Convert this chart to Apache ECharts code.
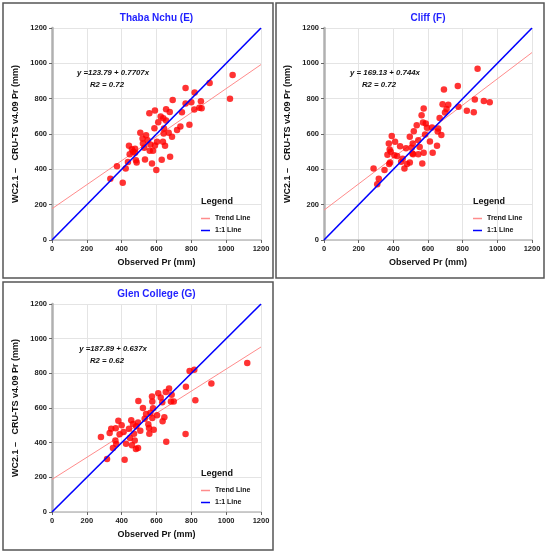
<!DOCTYPE html>
<html>
<head>
<meta charset="utf-8">
<script src="https://cdn.jsdelivr.net/npm/echarts@6/dist/echarts.min.js"></script>
<style>
  html, body { margin: 0; padding: 0; background: #fff; }
  #main { width: 550px; height: 554px; }
</style>
</head>
<body>
<div id="main"></div>
<script>
// panel titles and fit labels
var stations = ['Thaba Nchu (E)', 'Cliff (F)', 'Glen College (G)'];
var equations = ['y =123.79 + 0.7707x', 'y = 169.13 + 0.744x', 'y =187.89 + 0.637x'];
var r2Labels = ['R2 = 0.72', 'R2 = 0.72', 'R2 = 0.62'];
var axisTicks = [0, 200, 400, 600, 800, 1000, 1200];

// Thaba Nchu (E)
var thabaObs = [335, 373, 406, 423, 436, 442, 446, 459, 477, 482, 486, 477, 507, 522, 530, 534, 540, 549, 559, 561,
  574, 580, 588, 591, 599, 591, 603, 610, 624, 630, 639, 637, 643, 641, 649, 655, 655, 670, 676, 678,
  689, 693, 718, 737, 746, 767, 767, 789, 800, 817, 819, 846, 855, 859, 905, 1022, 1037, 466, 520, 565];
var thabaWc = [347, 418, 324, 405, 441, 533, 486, 514, 494, 452, 439, 516, 607, 546, 522, 456, 593, 565, 718, 505,
  433, 505, 633, 733, 396, 535, 556, 667, 699, 454, 689, 556, 631, 603, 533, 740, 676, 607, 725, 471,
  584, 793, 622, 642, 723, 861, 772, 652, 780, 738, 835, 748, 786, 746, 889, 799, 934, 500, 575, 540];
var thabaTrend = [177, 993];

// Cliff (F)
var cliffObs = [286, 307, 316, 349, 366, 374, 376, 381, 379, 385, 391, 406, 410, 422, 439, 445, 454, 464, 473, 479,
  495, 495, 506, 510, 512, 514, 518, 535, 544, 544, 552, 563, 567, 571, 575, 575, 583, 587, 594, 611,
  623, 627, 652, 656, 659, 667, 677, 684, 692, 698, 707, 717, 772, 776, 824, 864, 870, 886, 922, 956];
var cliffWc = [405, 315, 347, 396, 482, 546, 430, 439, 512, 499, 588, 480, 556, 475, 531, 443, 460, 405, 520, 430,
  439, 584, 522, 490, 546, 485, 616, 650, 565, 486, 527, 706, 433, 665, 744, 494, 597, 659, 635, 558,
  637, 494, 533, 614, 631, 691, 595, 769, 852, 722, 742, 765, 872, 754, 731, 723, 795, 970, 787, 780];
var cliffTrend = [169, 1061];

// Glen College (G)
var glenObs = [281, 316, 331, 340, 350, 364, 366, 369, 381, 388, 400, 411, 417, 425, 442, 448, 455, 459, 465, 471,
  475, 482, 494, 484, 494, 496, 507, 522, 532, 540, 553, 557, 559, 565, 574, 576, 576, 580, 584, 603,
  610, 624, 633, 635, 645, 653, 656, 672, 683, 687, 699, 767, 769, 790, 817, 823, 915, 1121];
var glenWc = [433, 306, 456, 481, 369, 413, 483, 392, 527, 448, 500, 462, 302, 394, 481, 427, 529, 385, 508, 452,
  413, 363, 369, 494, 517, 640, 469, 600, 538, 565, 506, 485, 452, 573, 667, 637, 542, 598, 475, 558,
  685, 660, 633, 523, 546, 692, 406, 713, 637, 677, 638, 450, 723, 813, 821, 644, 742, 860];
var glenTrend = [188, 952];

var oneToOne = [0, 1200];

var obsSets = [thabaObs, cliffObs, glenObs];
var wcSets = [thabaWc, cliffWc, glenWc];
var trendSets = [thabaTrend, cliffTrend, glenTrend];

// layout of the three boxes
var grids = [
  { left: 52, top: 28, width: 209, height: 212 },
  { left: 324, top: 28, width: 208, height: 212 },
  { left: 52, top: 304, width: 209, height: 208 }
];
var boxes = [[3, 3, 270, 275], [276, 3, 268, 275], [3, 282, 270, 268]];

var font = 'Arial, "Liberation Sans", sans-serif';

var myChart = echarts.init(document.getElementById('main'), null, { renderer: 'canvas' });

var xAxes = [], yAxes = [], series = [], legends = [], graphics = [];

for (var i = 0; i < 3; i++) {
  var g = grids[i];
  var common = {
    gridIndex: i,
    type: 'value',
    min: axisTicks[0],
    max: axisTicks[axisTicks.length - 1],
    interval: axisTicks[1] - axisTicks[0],
    nameLocation: 'middle',
    nameTextStyle: { fontFamily: font, fontWeight: 'bold', fontSize: 9, color: '#111' },
    axisTick: { show: true, length: 3, lineStyle: { color: '#666' } },
    axisLabel: {
      fontFamily: font, fontWeight: 'bold', fontSize: 7.5, color: '#222', margin: 5,
      formatter: function (v) { return String(v); }
    },
    splitLine: { lineStyle: { color: '#e4e4e4', width: 1 } }
  };
  xAxes.push(Object.assign({}, common, {
    name: 'Observed Pr (mm)',
    nameGap: 18,
    axisLine: { onZero: false, lineStyle: { color: '#bdbdbd', width: 1.5 } }
  }));
  yAxes.push(Object.assign({}, common, {
    name: 'WC2.1 \u2013   CRU-TS v4.09 Pr (mm)',
    nameGap: 32,
    axisLine: { show: true, onZero: false, lineStyle: { color: '#b0b0b0', width: 2.5 } }
  }));

  var pts = obsSets[i].map(function (x, k) { return [x, wcSets[i][k]]; });
  series.push({
    name: 'Observed',
    type: 'scatter',
    xAxisIndex: i, yAxisIndex: i,
    symbolSize: 6.5,
    itemStyle: { color: '#ff0000' },
    data: pts,
    z: 3
  });
  series.push({
    name: 'Trend Line',
    type: 'line',
    xAxisIndex: i, yAxisIndex: i,
    symbol: 'none',
    lineStyle: { color: '#ff8c8c', width: 1 },
    itemStyle: { color: '#ff8c8c' },
    data: [[oneToOne[0], trendSets[i][0]], [oneToOne[1], trendSets[i][1]]],
    z: 2
  });
  series.push({
    name: '1:1 Line',
    type: 'line',
    xAxisIndex: i, yAxisIndex: i,
    symbol: 'none',
    lineStyle: { color: '#0000ff', width: 1.6 },
    itemStyle: { color: '#0000ff' },
    data: [[oneToOne[0], oneToOne[0]], [oneToOne[1], oneToOne[1]]],
    z: 4
  });

  // legend block sits at bottom right of each plot
  legends.push({
    data: ['Trend Line', '1:1 Line'],
    orient: 'vertical',
    left: g.left + 144,
    top: g.top + g.height - 31,
    icon: 'rect',
    itemWidth: 9,
    itemHeight: 1.5,
    itemGap: 3,
    selectedMode: false,
    textStyle: { fontFamily: font, fontWeight: 'bold', fontSize: 7, color: '#111', lineHeight: 9 }
  });

  var cx = g.left + g.width / 2;
  graphics.push({
    type: 'rect',
    shape: { x: boxes[i][0], y: boxes[i][1], width: boxes[i][2], height: boxes[i][3] },
    style: { fill: 'none', stroke: '#555', lineWidth: 1.5 },
    silent: true
  });
  graphics.push({
    type: 'text', z: 100,
    x: cx, y: g.top - 10,
    style: { text: stations[i], fill: '#1f1fff', font: 'bold 10px ' + font, textAlign: 'center', textVerticalAlign: 'middle' }
  });
  graphics.push({
    type: 'text', z: 100,
    x: g.left + 61, y: g.top + 45,
    style: { text: equations[i], fill: '#111', font: 'italic bold 7.8px ' + font, textAlign: 'center', textVerticalAlign: 'middle' }
  });
  graphics.push({
    type: 'text', z: 100,
    x: g.left + 55, y: g.top + 57,
    style: { text: r2Labels[i], fill: '#111', font: 'italic bold 7.8px ' + font, textAlign: 'center', textVerticalAlign: 'middle' }
  });
  graphics.push({
    type: 'text', z: 100,
    x: g.left + 165, y: g.top + g.height - 38,
    style: { text: 'Legend', fill: '#111', font: 'bold 9px ' + font, textAlign: 'center', textVerticalAlign: 'middle' }
  });
}

var option = {
  animation: false,
  backgroundColor: '#fff',
  grid: grids.map(function (g) { return Object.assign({ containLabel: false }, g); }),
  xAxis: xAxes,
  yAxis: yAxes,
  legend: legends,
  series: series,
  graphic: graphics
};

myChart.setOption(option);
</script>
</body>
</html>
